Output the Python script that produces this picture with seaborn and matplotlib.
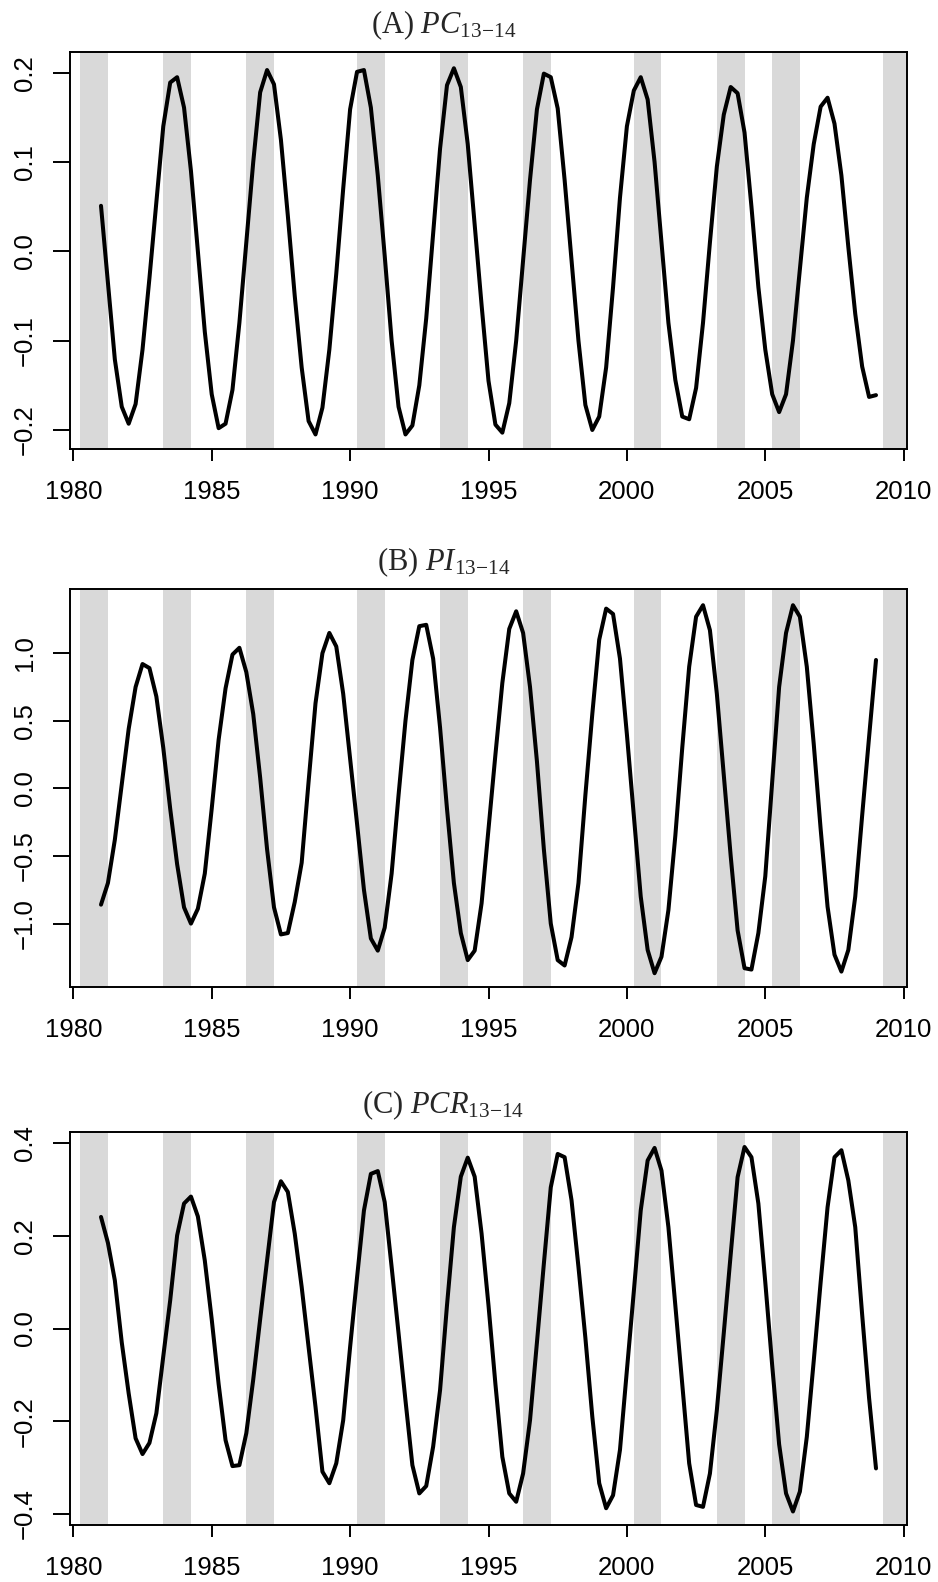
import numpy as np
import pandas as pd
import matplotlib
matplotlib.use("Agg")
import matplotlib.pyplot as plt
import seaborn as sns

# quarterly time axis, 1981Q1 .. 2009Q1
quarters = np.arange(1981.0, 2009.001, 0.25)

# shaded periods (start year, each one year long)
band_starts = [1980.25, 1983.25, 1986.25, 1990.25, 1993.25,
               1996.25, 2000.25, 2003.25, 2005.25, 2009.25]

pc_13_14 = [
    0.051, -0.035, -0.121, -0.174,    # 1981
    -0.193, -0.171, -0.110, -0.030,   # 1982
    0.055, 0.140, 0.189, 0.195,       # 1983
    0.161, 0.090, 0.000, -0.090,      # 1984
    -0.160, -0.198, -0.193, -0.155,   # 1985
    -0.080, 0.010, 0.100, 0.178,      # 1986
    0.203, 0.187, 0.125, 0.040,       # 1987
    -0.050, -0.130, -0.190, -0.205,   # 1988
    -0.175, -0.110, -0.025, 0.070,    # 1989
    0.159, 0.201, 0.203, 0.161,       # 1990
    0.085, -0.005, -0.100, -0.174,    # 1991
    -0.205, -0.195, -0.150, -0.075,   # 1992
    0.020, 0.115, 0.186, 0.205,       # 1993
    0.184, 0.120, 0.030, -0.060,      # 1994
    -0.145, -0.194, -0.203, -0.170,   # 1995
    -0.100, -0.010, 0.080, 0.159,     # 1996
    0.199, 0.195, 0.160, 0.080,       # 1997
    -0.010, -0.100, -0.172, -0.200,   # 1998
    -0.185, -0.130, -0.040, 0.060,    # 1999
    0.140, 0.180, 0.195, 0.170,       # 2000
    0.100, 0.010, -0.080, -0.144,     # 2001
    -0.185, -0.188, -0.153, -0.080,   # 2002
    0.010, 0.095, 0.153, 0.184,       # 2003
    0.177, 0.133, 0.050, -0.040,      # 2004
    -0.110, -0.160, -0.180, -0.160,   # 2005
    -0.100, -0.020, 0.060, 0.120,     # 2006
    0.162, 0.172, 0.143, 0.085,       # 2007
    0.005, -0.070, -0.129, -0.163,    # 2008
    -0.161,                           # 2009
]

pi_13_14 = [
    -0.86, -0.70, -0.38, 0.03,
    0.44, 0.75, 0.92, 0.89,
    0.68, 0.30, -0.15, -0.56,
    -0.88, -1.00, -0.89, -0.63,
    -0.15, 0.36, 0.74, 0.99,
    1.04, 0.86, 0.55, 0.08,
    -0.45, -0.88, -1.08, -1.07,
    -0.84, -0.55, 0.05, 0.63,
    1.00, 1.15, 1.05, 0.70,
    0.22, -0.26, -0.75, -1.11,
    -1.20, -1.03, -0.63, -0.05,
    0.50, 0.95, 1.20, 1.21,
    0.96, 0.45, -0.15, -0.70,
    -1.07, -1.27, -1.20, -0.85,
    -0.30, 0.25, 0.78, 1.18,
    1.31, 1.15, 0.75, 0.20,
    -0.45, -1.00, -1.27, -1.31,
    -1.10, -0.70, -0.05, 0.55,
    1.10, 1.33, 1.29, 0.96,
    0.40, -0.20, -0.80, -1.195,
    -1.367, -1.245, -0.90, -0.35,
    0.30, 0.90, 1.27, 1.355,
    1.17, 0.70, 0.10, -0.50,
    -1.05, -1.33, -1.34, -1.07,
    -0.65, 0.05, 0.75, 1.15,
    1.355, 1.27, 0.90, 0.33,
    -0.30, -0.875, -1.23, -1.355,
    -1.195, -0.80, -0.20, 0.38,
    0.95,
]

pcr_13_14 = [
    0.241, 0.185, 0.104, -0.030,
    -0.140, -0.237, -0.271, -0.247,
    -0.183, -0.060, 0.061, 0.201,
    0.270, 0.285, 0.242, 0.147,
    0.020, -0.120, -0.241, -0.297,
    -0.295, -0.226, -0.110, 0.020,
    0.147, 0.273, 0.318, 0.295,
    0.205, 0.090, -0.040, -0.169,
    -0.309, -0.334, -0.291, -0.198,
    -0.040, 0.110, 0.255, 0.334,
    0.340, 0.273, 0.133, -0.010,
    -0.155, -0.295, -0.356, -0.340,
    -0.255, -0.133, 0.050, 0.219,
    0.328, 0.369, 0.328, 0.205,
    0.050, -0.120, -0.277, -0.356,
    -0.374, -0.313, -0.198, -0.030,
    0.140, 0.305, 0.377, 0.370,
    0.277, 0.133, -0.020, -0.190,
    -0.334, -0.388, -0.360, -0.262,
    -0.090, 0.080, 0.255, 0.363,
    0.390, 0.341, 0.219, 0.050,
    -0.120, -0.291, -0.381, -0.385,
    -0.313, -0.176, -0.010, 0.160,
    0.327, 0.392, 0.370, 0.270,
    0.100, -0.080, -0.250, -0.356,
    -0.395, -0.352, -0.234, -0.070,
    0.100, 0.262, 0.370, 0.385,
    0.320, 0.219, 0.030, -0.150,
    -0.302,
]

titles = [r"(A) $PC_{13{-}14}$", r"(B) $PI_{13{-}14}$", r"(C) $PCR_{13{-}14}$"]
yticks = [[-0.2, -0.1, 0.0, 0.1, 0.2],
          [-1.0, -0.5, 0.0, 0.5, 1.0],
          [-0.4, -0.2, 0.0, 0.2, 0.4]]
ylims = [(-0.2213, 0.2232), (-1.469, 1.475), (-0.4242, 0.4244)]
xticks = [1980, 1985, 1990, 1995, 2000, 2005, 2010]

# plot settings
sns.set_style("white")
plt.rcParams["font.family"] = ["Liberation Sans", "DejaVu Sans"]
plt.rcParams["mathtext.fontset"] = "custom"
plt.rcParams["mathtext.rm"] = "Liberation Serif"
plt.rcParams["mathtext.it"] = "Liberation Serif:italic"

fig = plt.figure(figsize=(9.38, 15.82), dpi=100)
W, H = 938.0, 1582.0
boxes = [(52, 449), (589, 987), (1132, 1525)]  # top, bottom in pixels

series = [pc_13_14, pi_13_14, pcr_13_14]
for i, (vals, title) in enumerate(zip(series, titles)):
    assert len(vals) == len(quarters)
    top, bot = boxes[i]
    ax = fig.add_axes([70 / W, 1 - bot / H, (907 - 70) / W, (bot - top) / H])
    df = pd.DataFrame({"year": quarters, "value": vals})
    for s in band_starts:
        ax.axvspan(s, s + 1, color="#D9D9D9", lw=0, zorder=0)
    sns.lineplot(data=df, x="year", y="value", ax=ax, color="black",
                 linewidth=2.9, zorder=3)
    span = quarters[-1] - quarters[0]
    ax.set_xlim(quarters[0] - 0.04 * span, quarters[-1] + 0.04 * span)
    ax.set_ylim(*ylims[i])
    ax.set_xticks(xticks)
    ax.set_xticklabels([str(t) for t in xticks])
    ax.set_yticks(yticks[i])
    ax.set_yticklabels(["%.1f" % t if t >= 0 else "\u2212%.1f" % -t for t in yticks[i]])
    ax.set_xlabel("")
    ax.set_ylabel("")
    for sp in ax.spines.values():
        sp.set_visible(True)
        sp.set_color("black")
        sp.set_linewidth(1.4)
    ax.tick_params(axis="x", direction="out", length=8.6, width=1.4,
                   pad=14, labelsize=18.5, colors="black", bottom=True)
    ax.tick_params(axis="y", direction="out", length=12, width=1.4,
                   pad=12, labelsize=18.5, colors="black", left=True)
    plt.setp(ax.get_yticklabels(), rotation=90, va="center")
    ax.text(0.446, 1 + 19.0 / (bot - top), title, transform=ax.transAxes,
            ha="center", va="baseline", fontsize=22,
            family="Liberation Serif")

fig.savefig("out.png", dpi=100)
